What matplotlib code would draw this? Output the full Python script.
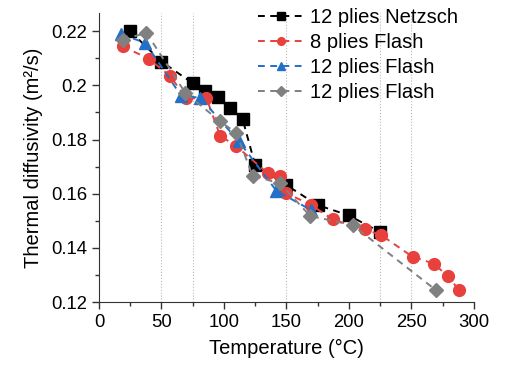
import numpy as np
import matplotlib
matplotlib.use("Agg")
import matplotlib.pyplot as plt
from matplotlib.ticker import MultipleLocator, FuncFormatter

plt.rcParams['font.family'] = ['Liberation Sans', 'DejaVu Sans']

# 12 plies Netzsch
t_netzsch = [25, 50, 75, 85, 95, 105, 115, 125, 150, 175, 200, 225]
a_netzsch = [0.2200, 0.2088, 0.2008, 0.1978, 0.1957, 0.1918, 0.1875, 0.1706,
             0.1632, 0.1558, 0.1520, 0.1458]

# 8 plies Flash
t_8flash = [19, 40, 57, 70, 86, 97, 110, 135, 145, 150, 170, 187, 213, 226,
            251, 268, 279, 288]
a_8flash = [0.2144, 0.2098, 0.2034, 0.1952, 0.1953, 0.1814, 0.1775, 0.1676,
            0.1664, 0.1602, 0.1558, 0.1505, 0.1468, 0.1447, 0.1367, 0.1342,
            0.1296, 0.1246]

# 12 plies Flash (blue)
t_12flash_a = [18, 37, 66, 81, 112, 142, 170]
a_12flash_a = [0.2188, 0.2157, 0.1960, 0.1955, 0.1793, 0.1611, 0.1539]

# 12 plies Flash (grey)
t_12flash_b = [19, 38, 69, 97, 110, 123, 145, 169, 203, 270]
a_12flash_b = [0.2169, 0.2194, 0.1973, 0.1867, 0.1824, 0.1666, 0.1638,
               0.1518, 0.1484, 0.1243]

labels = ['12 plies Netzsch', '8 plies Flash', '12 plies Flash', '12 plies Flash']
guide_t = [50, 75, 150, 225, 250]

fig = plt.figure(figsize=(5.1, 3.72), dpi=100)
ax = fig.add_axes([0.194, 0.188, 0.735, 0.777])

for g in guide_t:
    ax.axvline(g, color='#b8b8b8', ls=':', lw=0.8, zorder=0)

dash = (0, (3.5, 2.8))
ax.plot(t_netzsch, a_netzsch, ls=dash, color='black', lw=1.4, marker='s',
        ms=8, label=labels[0], zorder=3)
ax.plot(t_8flash, a_8flash, ls=dash, color='#e8413d', lw=1.4, marker='o',
        ms=8.5, label=labels[1], zorder=4)
ax.plot(t_12flash_a, a_12flash_a, ls=dash, color='#2270c8', lw=1.4, marker='^',
        ms=9, label=labels[2], zorder=5)
ax.plot(t_12flash_b, a_12flash_b, ls=dash, color='#808080', lw=1.4, marker='D',
        ms=7.5, label=labels[3], zorder=6)

ax.set_xlim(0, 300)
ax.set_ylim(0.12, 0.2267)
ax.xaxis.set_major_locator(MultipleLocator(50))
ax.xaxis.set_minor_locator(MultipleLocator(25))
ax.yaxis.set_major_locator(MultipleLocator(0.02))
ax.yaxis.set_minor_locator(MultipleLocator(0.01))
ax.yaxis.set_major_formatter(FuncFormatter(lambda v, p: f'{v:g}'))
ax.tick_params(which='both', direction='out', labelsize=13.3, width=1,
               color='#333333')
ax.tick_params(which='major', length=5)
ax.tick_params(which='minor', length=3)
for s in ['top', 'right']:
    ax.spines[s].set_visible(False)
for s in ['left', 'bottom']:
    ax.spines[s].set_color('#333333')

ax.set_xlabel('Temperature (°C)', fontsize=14.5, labelpad=6)
ax.set_ylabel('Thermal diffusivity (m²/s)', fontsize=14.5, labelpad=6)

ax.legend(loc='upper right', bbox_to_anchor=(0.99, 1.06), frameon=False,
          fontsize=14.5, handlelength=2.3, handletextpad=0.3,
          labelspacing=0.3, markerscale=0.65, borderaxespad=0.2)

fig.savefig('out.png', dpi=100)
